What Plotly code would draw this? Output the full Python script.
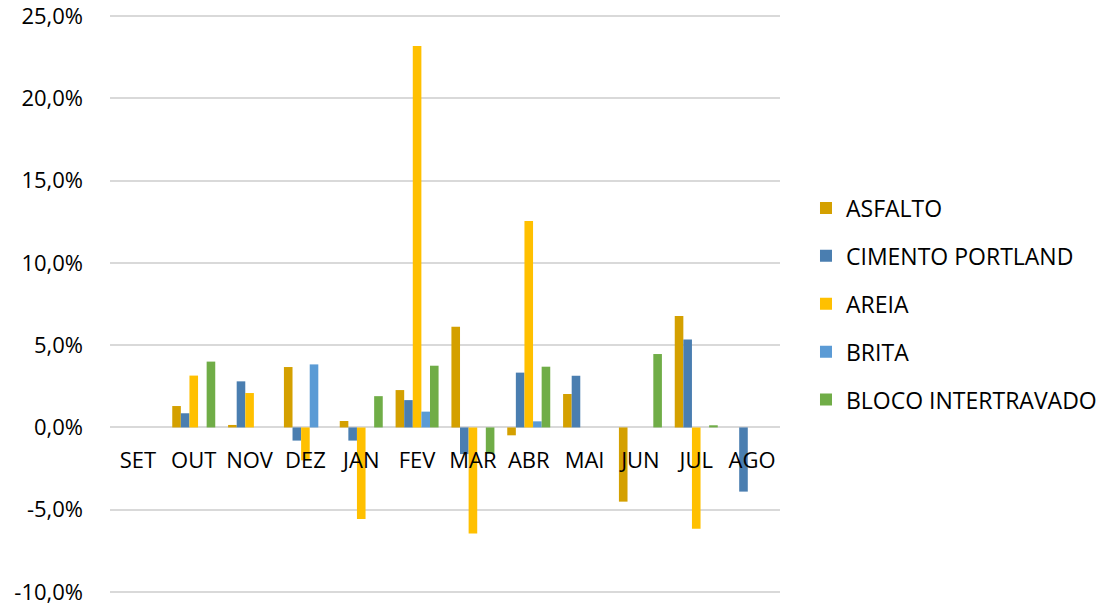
import plotly.graph_objects as go

months = ["SET", "OUT", "NOV", "DEZ", "JAN", "FEV", "MAR", "ABR", "MAI", "JUN", "JUL", "AGO"]

asfalto = [0.0, 1.3, 0.15, 3.67, 0.39, 2.27, 6.12, -0.48, 2.03, -4.51, 6.77, 0.0]
cimento = [0.0, 0.86, 2.8, -0.8, -0.8, 1.66, -1.62, 3.33, 3.14, 0.0, 5.35, -3.9]
areia = [0.0, 3.15, 2.09, -2.0, -5.57, 23.17, -6.44, 12.54, 0.0, 0.0, -6.15, 0.0]
brita = [0.0, 0.0, 0.0, 3.83, 0.0, 0.96, 0.0, 0.37, 0.0, 0.0, 0.0, 0.0]
bloco = [0.0, 4.0, 0.0, 0.0, 1.9, 3.75, -1.6, 3.69, 0.0, 4.46, 0.13, 0.0]

y_tick_vals = [-0.10, -0.05, 0.0, 0.05, 0.10, 0.15, 0.20, 0.25]
y_tick_text = ["-10,0%", "-5,0%", "0,0%", "5,0%", "10,0%", "15,0%", "20,0%", "25,0%"]

series = [
    ("ASFALTO", asfalto, "#D4A000"),
    ("CIMENTO PORTLAND", cimento, "#4A7EB0"),
    ("AREIA", areia, "#FFC000"),
    ("BRITA", brita, "#5B9BD5"),
    ("BLOCO INTERTRAVADO", bloco, "#70AD47"),
]

fig = go.Figure()
for name, vals, color in series:
    fig.add_trace(go.Bar(
        name=name, x=months, y=[v / 100 for v in vals],
        marker=dict(color=color, line=dict(width=0)),
        legendgroup=name,
    ))

ymin, ymax = -0.10122, 0.25122
zero_pos = (0 - ymin) / (ymax - ymin)

fig.update_layout(
    width=1097, height=598,
    margin=dict(l=102, r=325, t=6, b=12, autoexpand=False),
    paper_bgcolor="white", plot_bgcolor="white",
    separators=",.",
    barmode="group", bargap=0.23, bargroupgap=0,
    font=dict(family="Open Sans, Liberation Sans, Arial", size=22, color="#000000"),
    xaxis=dict(
        anchor="free", position=zero_pos, automargin=False,
        showgrid=False, showline=False, zeroline=False,
        ticks="", tickfont=dict(size=22, color="#000000"),
        ticklabelstandoff=18,
    ),
    yaxis=dict(
        range=[ymin, ymax], automargin=False,
        tickvals=y_tick_vals, ticktext=y_tick_text,
        showgrid=True, gridcolor="#D9D9D9", gridwidth=1.5,
        zeroline=True, zerolinecolor="#D9D9D9", zerolinewidth=1.5,
        showline=False, ticks="", ticklabelstandoff=26,
        ticklabeloverflow="allow",
        tickfont=dict(size=22, color="#000000"),
    ),
    legend=dict(
        x=1.0388, y=0.5, xanchor="left", yanchor="middle",
        traceorder="grouped", tracegroupgap=15,
        font=dict(size=23, color="#000000"),
        itemwidth=30,
    ),
)

fig.write_html("out.html")
